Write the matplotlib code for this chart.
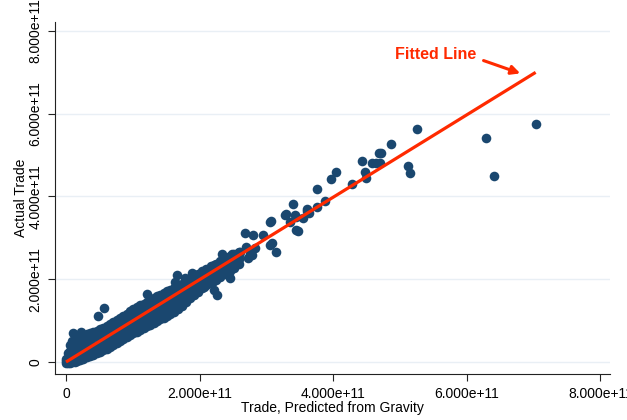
import numpy as np
import matplotlib
matplotlib.use("Agg")
import matplotlib.pyplot as plt
from matplotlib.ticker import FuncFormatter

plt.rcParams['font.family'] = ['Liberation Sans', 'DejaVu Sans']

SCALE = 1e11  # all values below are in units of 1e11

# (predicted, actual) pairs, dense part near the origin
cluster_points = [
    (0.00, -0.02), (0.00, 0.03), (0.00, 0.08),
    (0.03, -0.03), (0.03, 0.10), (0.03, 0.22),
    (0.06, -0.02), (0.06, 0.12), (0.06, 0.27), (0.06, 0.40),
    (0.09, 0.00), (0.09, 0.16), (0.09, 0.32), (0.09, 0.50),
    (0.13, 0.01), (0.13, 0.20), (0.13, 0.38), (0.13, 0.56),
    (0.17, 0.03), (0.17, 0.22), (0.17, 0.42), (0.17, 0.60),
    (0.21, 0.05), (0.21, 0.26), (0.21, 0.46), (0.21, 0.63),
    (0.26, 0.08), (0.26, 0.28), (0.26, 0.48), (0.26, 0.66),
    (0.31, 0.12), (0.31, 0.32), (0.31, 0.52), (0.31, 0.68),
    (0.36, 0.15), (0.36, 0.36), (0.36, 0.56), (0.36, 0.71),
    (0.41, 0.18), (0.41, 0.39), (0.41, 0.60), (0.41, 0.73),
    (0.46, 0.21), (0.46, 0.42), (0.46, 0.62), (0.46, 0.76),
    (0.51, 0.24), (0.51, 0.45), (0.51, 0.65), (0.51, 0.79),
    (0.56, 0.28), (0.56, 0.48), (0.56, 0.68), (0.56, 0.83),
    (0.61, 0.32), (0.61, 0.52), (0.61, 0.72), (0.61, 0.87),
    (0.66, 0.37), (0.66, 0.57), (0.66, 0.76), (0.66, 0.92),
    (0.71, 0.42), (0.71, 0.61), (0.71, 0.80), (0.71, 0.96),
    (0.76, 0.46), (0.76, 0.65), (0.76, 0.85), (0.76, 1.02),
    (0.81, 0.51), (0.81, 0.70), (0.81, 0.89), (0.81, 1.07),
    (0.86, 0.55), (0.86, 0.74), (0.86, 0.94), (0.86, 1.12),
    (0.91, 0.60), (0.91, 0.79), (0.91, 0.99), (0.91, 1.17),
    (0.96, 0.65), (0.96, 0.84), (0.96, 1.04), (0.96, 1.23),
    (1.01, 0.69), (1.01, 0.88), (1.01, 1.08), (1.01, 1.28),
    (1.06, 0.73), (1.06, 0.92), (1.06, 1.12), (1.06, 1.32),
    (1.11, 0.78), (1.11, 0.97), (1.11, 1.17), (1.11, 1.37),
    (1.16, 0.82), (1.16, 1.01), (1.16, 1.21), (1.16, 1.41),
    (1.21, 0.86), (1.21, 1.05), (1.21, 1.25), (1.21, 1.45),
    (1.26, 0.90), (1.26, 1.10), (1.26, 1.30), (1.26, 1.50),
    (1.31, 0.95), (1.31, 1.15), (1.31, 1.35), (1.31, 1.55),
    (1.36, 0.99), (1.36, 1.19), (1.36, 1.39), (1.36, 1.59),
    (1.41, 1.03), (1.41, 1.23), (1.41, 1.43), (1.41, 1.63),
    (1.46, 1.07), (1.46, 1.27), (1.46, 1.47), (1.46, 1.67),
    (1.51, 1.12), (1.51, 1.31), (1.51, 1.51), (1.51, 1.71),
    (1.56, 1.16), (1.56, 1.35), (1.56, 1.55), (1.56, 1.75),
    (1.61, 1.20), (1.61, 1.40), (1.61, 1.60), (1.61, 1.79),
    (1.67, 1.28), (1.67, 1.46), (1.67, 1.65), (1.67, 1.84),
    (1.73, 1.36), (1.73, 1.53), (1.73, 1.71), (1.73, 1.89),
    (1.79, 1.45), (1.79, 1.60), (1.79, 1.77), (1.79, 1.95),
    (1.85, 1.54), (1.85, 1.68), (1.85, 1.84), (1.85, 2.01),
    (1.91, 1.62), (1.91, 1.76), (1.91, 1.91), (1.91, 2.07),
    (1.97, 1.70), (1.97, 1.83), (1.97, 1.98), (1.97, 2.13),
    (2.03, 1.78), (2.03, 1.91), (2.03, 2.05), (2.03, 2.19),
    (2.10, 1.85), (2.10, 1.99), (2.10, 2.12), (2.10, 2.25),
    (2.17, 1.92), (2.17, 2.06), (2.17, 2.19), (2.17, 2.31),
    (2.24, 1.99), (2.24, 2.13), (2.24, 2.26), (2.24, 2.37),
    (2.31, 2.06), (2.31, 2.20), (2.31, 2.33), (2.31, 2.43),
    (2.38, 2.13), (2.38, 2.27), (2.38, 2.40), (2.38, 2.49),
    (2.45, 2.20), (2.45, 2.34), (2.45, 2.46), (2.45, 2.55),
    (2.52, 2.28), (2.52, 2.41), (2.52, 2.53), (2.52, 2.61),
    (2.59, 2.36), (2.59, 2.48), (2.59, 2.59), (2.59, 2.66),
    (0.11, 0.69), (0.23, 0.73), (0.48, 1.12), (0.57, 1.30),
    (1.21, 1.64), (0.76, 0.77), (1.16, 1.01), (1.56, 1.26),
]

# the more scattered large-trade pairs
spread_points = [
    (1.61, 1.42), (1.66, 1.34), (1.56, 1.58), (1.66, 1.50), (1.76, 1.58),
    (1.86, 1.66), (1.96, 1.74), (2.06, 1.82), (2.18, 1.90), (2.21, 1.74),
    (2.26, 1.62), (1.63, 1.94), (1.66, 2.10), (1.78, 2.02), (1.88, 2.14),
    (2.01, 2.06), (2.11, 2.22), (2.43, 2.18), (2.46, 2.02), (2.21, 2.34),
    (2.28, 2.30), (2.53, 2.48), (2.33, 2.62), (2.48, 2.62), (2.60, 2.66),
    (2.70, 2.78), (2.75, 2.62), (2.73, 2.50), (2.78, 2.58), (2.83, 2.75),
    (2.68, 3.11), (2.80, 3.07), (2.95, 3.07), (3.05, 2.83), (3.15, 2.66),
    (3.08, 2.87), (3.05, 3.39), (3.07, 3.41), (3.28, 3.55), (3.29, 3.57),
    (3.45, 3.51), (3.45, 3.19), (3.48, 3.17), (3.40, 3.82), (3.43, 3.55),
    (3.55, 3.47), (3.60, 3.65), (3.64, 3.59), (3.35, 3.39), (3.60, 3.69),
    (3.75, 3.75), (3.87, 3.89), (3.75, 4.17), (3.97, 4.43), (4.04, 4.60),
    (4.28, 4.30), (4.43, 4.86), (4.48, 4.60), (4.49, 4.45), (4.58, 4.81),
    (4.64, 4.80), (4.69, 5.04), (4.72, 5.04), (4.70, 4.80), (4.87, 5.26),
    (5.25, 5.63), (5.12, 4.73), (5.15, 4.57), (6.29, 5.42), (6.40, 4.48),
    (7.03, 5.75),
]

# fitted line (intercept, slope) as drawn in the chart, units of 1e11
fit_intercept = 0.0
fit_slope = 0.995

x_ticks = [0, 2, 4, 6, 8]
y_ticks = [0, 2, 4, 6, 8]

navy = '#1a476f'
red = '#ff2a00'

points = np.array(cluster_points + spread_points) * SCALE
pred, actual = points[:, 0], points[:, 1]

fig = plt.figure(figsize=(6.27, 4.2), dpi=100)
ax = fig.add_axes([0.0877, 0.1095, 0.8853, 0.838])

for yt in y_ticks:
    ax.axhline(yt * SCALE, color='#e9eff5', lw=1.0, zorder=0)

ax.scatter(pred, actual, s=48, color=navy, linewidths=0, zorder=2)

fit_x = np.array([pred.min(), pred.max()])
fit_y = fit_intercept * SCALE + fit_slope * fit_x
ax.plot(fit_x, fit_y, color=red, lw=2.3, solid_capstyle='butt', zorder=3)

ax.annotate('Fitted Line', xy=(5.54 * SCALE, 7.42 * SCALE), ha='center', va='center',
            color=red, fontsize=11.5, fontweight='bold')
ax.annotate('', xy=(6.80 * SCALE, 6.97 * SCALE), xytext=(6.25 * SCALE, 7.28 * SCALE),
            arrowprops=dict(arrowstyle='-|>', color=red, lw=2.2, mutation_scale=13,
                            shrinkA=0, shrinkB=0))

ax.set_xlim(-0.165 * SCALE, 8.144 * SCALE)
ax.set_ylim(-0.29 * SCALE, 8.21 * SCALE)

fmt = FuncFormatter(lambda v, pos: '0' if v == 0 else f'{v:.3e}')
ax.set_xticks([t * SCALE for t in x_ticks])
ax.set_yticks([t * SCALE for t in y_ticks])
ax.xaxis.set_major_formatter(fmt)
ax.yaxis.set_major_formatter(fmt)
ax.xaxis.get_offset_text().set_visible(False)
ax.yaxis.get_offset_text().set_visible(False)

ax.tick_params(axis='both', labelsize=10, length=5, width=0.8, pad=4, color='#222222')
plt.setp(ax.get_yticklabels(), rotation=90, va='center')

for side in ('top', 'right'):
    ax.spines[side].set_visible(False)
for side in ('left', 'bottom'):
    ax.spines[side].set_linewidth(0.8)
    ax.spines[side].set_color('#222222')

ax.set_xlabel('Trade, Predicted from Gravity', fontsize=10, labelpad=0)
ax.set_ylabel('Actual Trade', fontsize=10, labelpad=0)

fig.savefig('out.png', dpi=100)
